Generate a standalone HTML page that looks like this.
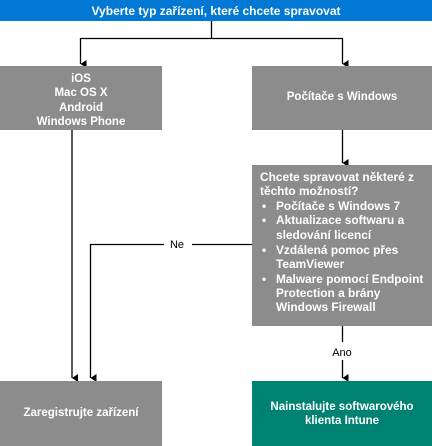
<!DOCTYPE html>
<html><head><meta charset="utf-8"><style>
html,body{margin:0;padding:0;background:#fff;}
svg{display:block;font-family:"Liberation Sans",sans-serif;font-weight:bold;}
</style></head><body>
<svg width="432" height="446" viewBox="0 0 432 446" xmlns="http://www.w3.org/2000/svg">
<defs><marker id="a" markerWidth="8" markerHeight="8" refX="4" refY="6" orient="auto" markerUnits="userSpaceOnUse"><path d="M0,0 L8,0 L4,6 z" fill="#000"/></marker></defs>
<rect x="0" y="0" width="432" height="21" fill="#0078d4"/>
<text x="216" y="15" fill="#fff" font-size="12" text-anchor="middle">Vyberte typ zařízení, které chcete spravovat</text>
<g stroke="#000" stroke-width="1.3" fill="none">
<path d="M211.5,21 V38.5"/>
<path d="M80.5,38.5 H342.5"/>
<path d="M80.5,38 V64" marker-end="url(#a)"/>
<path d="M342.5,38 V64" marker-end="url(#a)"/>
<path d="M342.5,130 V163" marker-end="url(#a)"/>
<path d="M72,130 V378" marker-end="url(#a)"/>
<path d="M252,244.5 H192 M164,244.5 H90.5 V378" marker-end="url(#a)"/>
<path d="M342.5,326 V342 M342.5,360 V378" marker-end="url(#a)"/>
</g>
<text x="177" y="248" font-size="11" font-weight="normal" text-anchor="middle">Ne</text>
<text x="342" y="356" font-size="11" font-weight="normal" text-anchor="middle">Ano</text>
<g fill="#8c8c8c">
<rect x="0" y="66" width="162" height="64"/>
<rect x="252" y="66" width="180" height="64"/>
<rect x="252" y="165" width="180" height="161"/>
<rect x="0" y="381" width="162" height="65"/>
</g>
<rect x="252" y="381" width="180" height="65" fill="#008272"/>
<g fill="#fff" font-size="11.5" text-anchor="middle">
<text x="81" y="82">iOS</text>
<text x="81" y="96">Mac OS X</text>
<text x="81" y="111">Android</text>
<text x="81" y="125">Windows Phone</text>
<text x="342" y="100">Počítače s Windows</text>
<text x="81" y="416">Zaregistrujte zařízení</text>
<text x="342" y="410">Nainstalujte softwarového</text>
<text x="342" y="424">klienta Intune</text>
</g>
<g fill="#fff" font-size="11.9">
<text x="260" y="181">Chcete spravovat některé z</text>
<text x="260" y="195">těchto možností?</text>
<text x="262" y="210">•</text><text x="276" y="210">Počítače s Windows 7</text>
<text x="262" y="224">•</text><text x="276" y="224">Aktualizace softwaru a</text>
<text x="276" y="239">sledování licencí</text>
<text x="262" y="254">•</text><text x="276" y="254">Vzdálená pomoc přes</text>
<text x="276" y="268">TeamViewer</text>
<text x="262" y="283">•</text><text x="276" y="283">Malware pomocí Endpoint</text>
<text x="276" y="297">Protection a brány</text>
<text x="276" y="311">Windows Firewall</text>
</g>
</svg>
</body></html>
